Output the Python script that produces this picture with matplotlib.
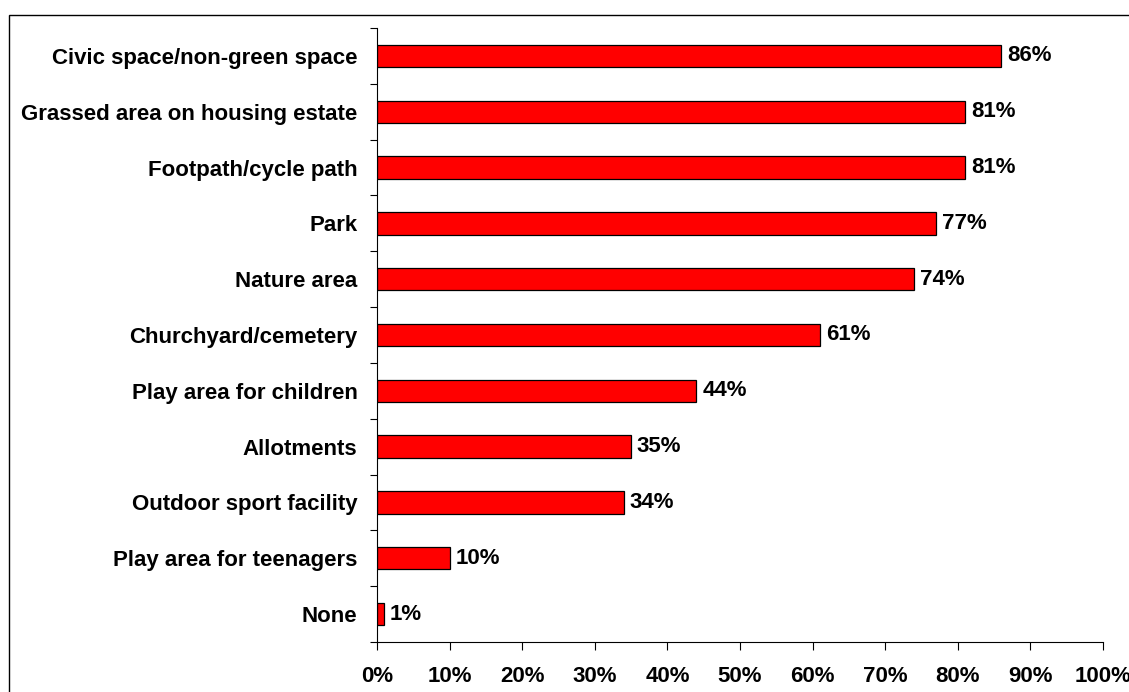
import matplotlib.pyplot as plt
from matplotlib.patches import Rectangle

plt.rcParams['font.family'] = ['Liberation Sans', 'DejaVu Sans']
plt.rcParams['font.weight'] = 'bold'

# share of respondents per type of space (top to bottom)
categories = ["Civic space/non-green space", "Grassed area on housing estate",
              "Footpath/cycle path", "Park", "Nature area", "Churchyard/cemetery",
              "Play area for children", "Allotments", "Outdoor sport facility",
              "Play area for teenagers", "None"]
values = [86, 81, 81, 77, 74, 61, 44, 35, 34, 10, 1]
xticks = [0, 10, 20, 30, 40, 50, 60, 70, 80, 90, 100]

fig = plt.figure(figsize=(11.29, 6.92), dpi=100)
ax = fig.add_axes([377 / 1129, 1 - 642 / 692, (1103 - 377) / 1129, (642 - 28) / 692])

# outer frame of the chart area
fig.patches.append(Rectangle((9 / 1129, -0.05), 1.1, 1 - 15 / 692 + 0.05,
                             transform=fig.transFigure, fill=False,
                             edgecolor='black', linewidth=1.0))

pos = list(range(len(categories)))
ax.barh(pos, values, height=0.4, color='#ff0000', edgecolor='black', linewidth=0.9)
for p, v in zip(pos, values):
    ax.text(v + 0.8, p, f"{v}%", va='center', ha='left', fontsize=16, fontweight='bold')

ax.set_ylim(len(categories) - 0.5, -0.5)
ax.set_xlim(0, 100)

ax.set_yticks(pos)
ax.set_yticklabels(categories, fontsize=16, fontweight='bold')
ax.set_yticks([p - 0.5 for p in pos] + [len(categories) - 0.5], minor=True)
ax.tick_params(axis='y', which='major', length=0, pad=14)
ax.tick_params(axis='y', which='minor', length=5, width=0.8, direction='out')

ax.set_xticks(xticks)
ax.set_xticklabels([f"{t}%" for t in xticks], fontsize=16, fontweight='bold')
ax.tick_params(axis='x', length=5.5, width=0.8, direction='out', pad=12)

ax.spines['top'].set_visible(False)
ax.spines['right'].set_visible(False)
for s in ('left', 'bottom'):
    ax.spines[s].set_linewidth(0.8)

fig.savefig("out.png", dpi=100)
